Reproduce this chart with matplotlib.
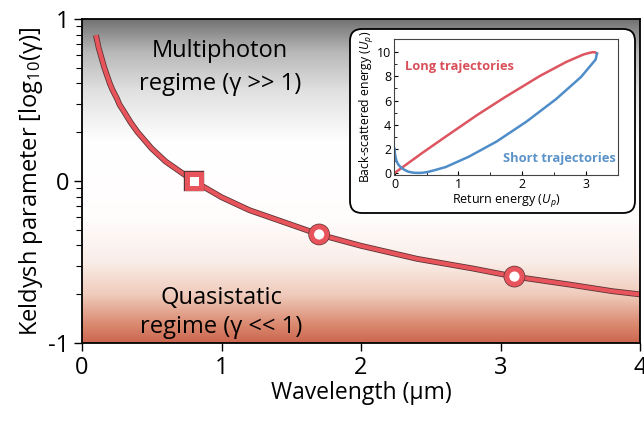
#Keldysh parameter vs wavelength, with back-scattering inset
import numpy as np
import matplotlib
matplotlib.use('Agg')
import matplotlib.pyplot as plt
import matplotlib.patheffects as pe
from matplotlib.colors import LinearSegmentedColormap
from matplotlib.patches import FancyBboxPatch

plt.rcParams['font.family'] = ['Open Sans', 'DejaVu Sans']
plt.rcParams['mathtext.fontset'] = 'custom'
plt.rcParams['mathtext.rm'] = 'Open Sans'
plt.rcParams['mathtext.it'] = 'Open Sans:italic'

# main curve (wavelength in um, log10 of Keldysh parameter)
Wavelength = [0.1, 0.11, 0.12, 0.13, 0.14, 0.15, 0.16, 0.18, 0.2, 0.22, 0.25, 0.27, 0.3, 0.35,
              0.4, 0.45, 0.5, 0.55, 0.6, 0.65, 0.7, 0.75, 0.8, 0.9, 1.0, 1.1, 1.2, 1.3, 1.4,
              1.5, 1.7, 2.0, 2.2, 2.4, 2.6, 2.8, 3.1, 3.3, 3.5, 3.8, 4.0]
LogGamma = [0.90, 0.86, 0.82, 0.79, 0.76, 0.73, 0.70, 0.65, 0.60, 0.56, 0.51, 0.47, 0.43, 0.36,
            0.30, 0.25, 0.20, 0.16, 0.12, 0.09, 0.06, 0.03, 0.00, -0.05, -0.10, -0.14, -0.18, -0.21, -0.24,
            -0.27, -0.33, -0.40, -0.44, -0.48, -0.51, -0.54, -0.59, -0.615, -0.64, -0.68, -0.70]

# marked wavelengths
SquareLam = [0.8]
SquareVal = [0.0]
CircleLam = [1.7, 3.1]
CircleVal = [-0.33, -0.59]

# inset: long trajectories (return energy, back-scattered energy) in Up
LongRet = [0.0, 0.42, 0.80, 1.29, 1.72, 2.28, 2.69, 2.96, 3.05, 3.11, 3.15, 3.17]
LongBack = [0.0, 1.61, 3.01, 4.79, 6.25, 8.05, 9.20, 9.82, 9.95, 10.01, 9.98, 9.90]

# inset: short trajectories
ShortRet = [3.17, 3.15, 2.92, 2.53, 2.07, 1.60, 1.16, 0.80, 0.62, 0.51, 0.44, 0.38, 0.29, 0.21,
            0.15, 0.10, 0.06, 0.035, 0.02, 0.004, 0.0005, 0.0]
ShortBack = [9.90, 9.40, 7.95, 6.12, 4.27, 2.61, 1.34, 0.49, 0.22, 0.07, 0.02, 0.00, 0.02, 0.11,
             0.27, 0.45, 0.68, 0.92, 1.17, 1.59, 1.89, 2.0]

RedLine = '#e8545c'
Outline = '#5a3434'

fig = plt.figure(figsize=(6.44, 4.24), dpi=100)
ax = fig.add_axes([82/644, 1-343/424, (640-82)/644, (343-19)/424])
ax.set_zorder(0)

# background gradient
Stops = [(0.0, (0.80, 0.40, 0.31)),
         (0.06, (0.86, 0.55, 0.45)),
         (0.15, (0.94, 0.80, 0.74)),
         (0.25, (0.98, 0.93, 0.91)),
         (0.38, (1.0, 0.99, 0.99)),
         (0.62, (1.0, 1.0, 1.0)),
         (0.78, (0.88, 0.88, 0.88)),
         (0.90, (0.72, 0.72, 0.72)),
         (1.0, (0.45, 0.45, 0.45))]
cmap = LinearSegmentedColormap.from_list('bg', Stops)
grad = np.linspace(0, 1, 256).reshape(-1, 1)
ax.imshow(grad, extent=[0, 4, -1, 1], aspect='auto', cmap=cmap, origin='lower', zorder=0)

outline = [pe.Stroke(linewidth=4.2, foreground=Outline), pe.Normal()]
ax.plot(Wavelength, LogGamma, color=RedLine, lw=3, solid_capstyle='butt', solid_joinstyle='round',
        path_effects=outline, zorder=2)
mk_outline = [pe.Stroke(linewidth=4.6, foreground=Outline), pe.Normal()]
ax.plot(SquareLam, SquareVal, 's', ms=10, mfc='white', mec=RedLine, mew=3.6,
        path_effects=mk_outline, zorder=3)
ax.plot(CircleLam, CircleVal, 'o', ms=11, mfc='white', mec=RedLine, mew=3.6,
        path_effects=mk_outline, zorder=3)

ax.text(0.99, 0.80, 'Multiphoton', ha='center', va='center', fontsize=17)
ax.text(0.99, 0.60, 'regime (γ >> 1)', ha='center', va='center', fontsize=17)
ax.text(1.0, -0.72, 'Quasistatic', ha='center', va='center', fontsize=17)
ax.text(1.0, -0.90, 'regime (γ << 1)', ha='center', va='center', fontsize=17)

ax.set_xlim(0, 4)
ax.set_ylim(-1, 1)
ax.set_xticks([0, 1, 2, 3, 4])
ax.set_yticks([-1, 0, 1])
ax.set_yticklabels(['-1', '0', '1'])
MinorY = [np.log10(k) - 1 for k in range(2, 10)] + [np.log10(k) for k in range(2, 10)]
ax.set_yticks(MinorY, minor=True)
ax.tick_params(axis='both', which='major', labelsize=17, length=6, width=1, direction='out', pad=3)
ax.tick_params(axis='y', which='minor', length=4, width=0.8, direction='out')
for s in ax.spines.values():
    s.set_linewidth(1.3)
ax.set_xlabel('Wavelength (µm)', fontsize=16.5, labelpad=1)
ax.set_ylabel('Keldysh parameter [log$_{10}$(γ)]', fontsize=17, labelpad=2)

# rounded inset box
box = FancyBboxPatch((3.50, (424-213)/100), 2.85, 1.84, boxstyle='round,pad=0,rounding_size=0.12',
                     transform=fig.dpi_scale_trans, facecolor='white', edgecolor='black', lw=1.3, zorder=1)
fig.patches.append(box)

axin = fig.add_axes([394/644, 1-175/424, (618-394)/644, (175-39)/424])
axin.set_zorder(2)
axin.plot(LongRet, LongBack, color='#dc5560', lw=1.8, solid_joinstyle='round')
axin.plot(ShortRet, ShortBack, color='#4f8dc9', lw=1.8, solid_joinstyle='round')
axin.text(0.16, 8.8, 'Long trajectories', color='#d9505a', fontsize=9.3, fontweight='bold', va='center')
axin.text(3.47, 1.16, 'Short trajectories', color='#5b93c8', fontsize=9.3, fontweight='bold', va='center', ha='right')
axin.set_xlim(-0.01, 3.5)
axin.set_ylim(-0.17, 11.1)
axin.set_xticks([0, 1, 2, 3])
axin.set_xticks([0.5, 1.5, 2.5, 3.5], minor=True)
axin.set_yticks([0, 2, 4, 6, 8, 10])
axin.set_yticks([1, 3, 5, 7, 9], minor=True)
axin.tick_params(which='major', labelsize=9, length=3, direction='in', pad=2)
axin.tick_params(which='minor', length=2, direction='in')
for s in axin.spines.values():
    s.set_linewidth(0.8)
    s.set_color('#444444')
axin.set_xlabel('Return energy ($U_p$)', fontsize=9, labelpad=1)
axin.set_ylabel('Back-scattered energy ($U_p$)', fontsize=8.8, labelpad=1)

fig.savefig('out.png', dpi=100)
